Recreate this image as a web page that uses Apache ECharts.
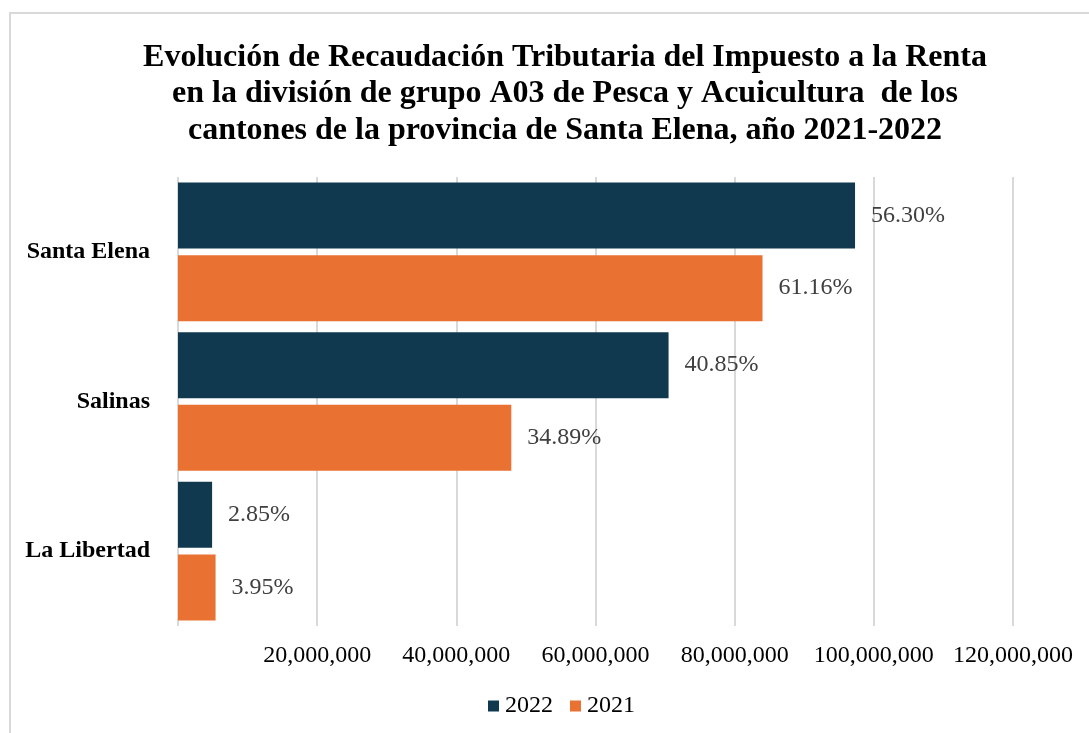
<!DOCTYPE html>
<html>
<head>
<meta charset="utf-8">
<script src="https://cdn.jsdelivr.net/npm/echarts@6/dist/echarts.min.js"></script>
<style>
  html, body { margin: 0; padding: 0; background: #fff; }
  #chart { width: 1089px; height: 733px; }
</style>
</head>
<body>
<div id="chart"></div>
<script>
// cantones (de arriba hacia abajo)
const cantones = ['Santa Elena', 'Salinas', 'La Libertad']
// recaudación estimada desde la imagen
const valores2022 = [97300000, 70500000, 4900000]
const valores2021 = [84000000, 47900000, 5400000]
// etiquetas de participación
const pct2022 = ['56.30%', '40.85%', '2.85%']
const pct2021 = ['61.16%', '34.89%', '3.95%']
const ticks = [0, 20000000, 40000000, 60000000, 80000000, 100000000, 120000000]

const serif = '"Liberation Serif", "Times New Roman", serif'
const myChart = echarts.init(document.getElementById('chart'))

const fmt = v => v === 0 ? '' : v.toLocaleString('en-US')

const option = {
  animation: false,
  backgroundColor: '#fff',
  graphic: [{
    type: 'rect',
    shape: { x: 10, y: 13, width: 1100, height: 740 },
    style: { fill: 'none', stroke: '#d9d9d9', lineWidth: 2 }
  }],
  title: {
    text: 'Evolución de Recaudación Tributaria del Impuesto a la Renta\nen la división de grupo A03 de Pesca y Acuicultura  de los\ncantones de la provincia de Santa Elena, año 2021-2022',
    left: 560,
    top: 34,
    textAlign: 'center',
    textStyle: {
      fontFamily: serif,
      fontWeight: 'bold',
      fontSize: 32,
      lineHeight: 36.5,
      color: '#000'
    }
  },
  legend: {
    data: ['2022', '2021'],
    bottom: 10,
    left: 483,
    itemWidth: 11,
    itemHeight: 11,
    itemGap: 17,
    icon: 'rect',
    textStyle: { fontFamily: serif, fontSize: 24, color: '#000', padding: [0, 0, 0, 1] }
  },
  grid: {
    left: 178,
    right: 76,
    top: 177,
    bottom: 107,
    containLabel: false
  },
  xAxis: {
    type: 'value',
    min: ticks[0],
    max: ticks[ticks.length - 1],
    interval: 20000000,
    axisLine: { show: false },
    axisTick: { show: false },
    splitLine: { show: true, lineStyle: { color: '#d9d9d9', width: 2 } },
    axisLabel: {
      formatter: fmt,
      fontFamily: serif,
      fontSize: 24,
      color: '#000',
      margin: 18
    }
  },
  yAxis: {
    type: 'category',
    data: cantones,
    inverse: true,
    axisLine: { show: false },
    axisTick: { show: false },
    axisLabel: {
      fontFamily: serif,
      fontWeight: 'bold',
      fontSize: 24,
      color: '#000',
      margin: 28
    }
  },
  series: [
    {
      name: '2022',
      type: 'bar',
      data: valores2022,
      barWidth: 66,
      barGap: '10%',
      itemStyle: { color: '#10394f' },
      label: {
        show: true,
        position: 'right',
        distance: 16,
        formatter: p => pct2022[p.dataIndex],
        fontFamily: serif,
        fontSize: 24,
        color: '#404040'
      }
    },
    {
      name: '2021',
      type: 'bar',
      data: valores2021,
      barWidth: 66,
      barGap: '10%',
      itemStyle: { color: '#e97132' },
      label: {
        show: true,
        position: 'right',
        distance: 16,
        formatter: p => pct2021[p.dataIndex],
        fontFamily: serif,
        fontSize: 24,
        color: '#404040'
      }
    }
  ]
}

option && myChart.setOption(option)
</script>
</body>
</html>
